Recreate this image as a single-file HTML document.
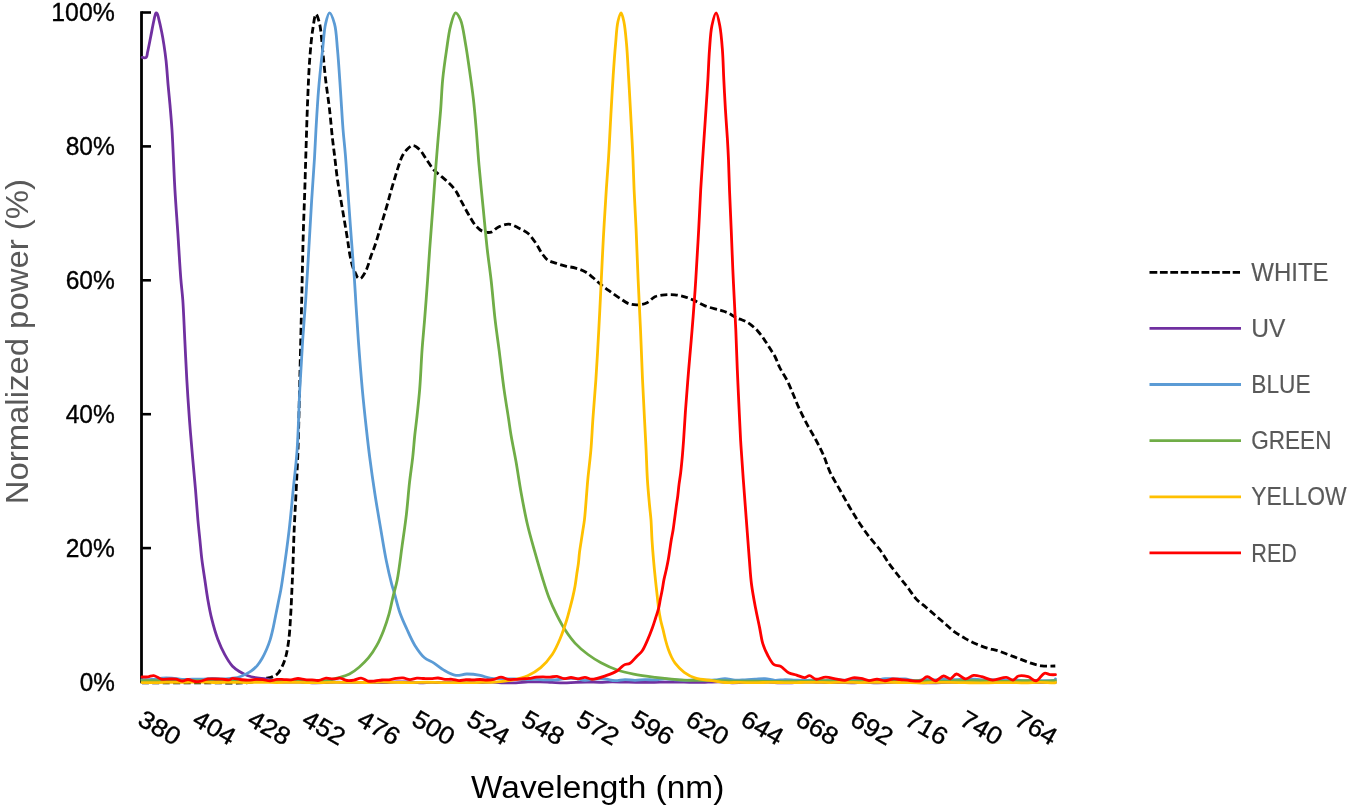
<!DOCTYPE html>
<html><head><meta charset="utf-8"><style>
html,body{margin:0;padding:0;background:#fff;width:1350px;height:807px;overflow:hidden}
svg{display:block;will-change:transform}
.tk{font-family:"Liberation Sans",sans-serif;font-size:25.5px;fill:#000;stroke:#000;stroke-width:0.35px}
.lg{font-family:"Liberation Sans",sans-serif;font-size:25.5px;fill:#595959;stroke:#595959;stroke-width:0.15px}
.ti{font-family:"Liberation Sans",sans-serif;font-size:31px;stroke-width:0px}
</style></head><body>
<svg width="1350" height="807" viewBox="0 0 1350 807">
<rect width="1350" height="807" fill="#fff"/>
<text x="114.8" y="21.0" text-anchor="end" class="tk" textLength="63.5" lengthAdjust="spacingAndGlyphs">100%</text>
<text x="114.8" y="154.9" text-anchor="end" class="tk" textLength="49.1" lengthAdjust="spacingAndGlyphs">80%</text>
<text x="114.8" y="288.8" text-anchor="end" class="tk" textLength="49.1" lengthAdjust="spacingAndGlyphs">60%</text>
<text x="114.8" y="422.7" text-anchor="end" class="tk" textLength="49.1" lengthAdjust="spacingAndGlyphs">40%</text>
<text x="114.8" y="556.6" text-anchor="end" class="tk" textLength="49.1" lengthAdjust="spacingAndGlyphs">20%</text>
<text x="114.8" y="690.5" text-anchor="end" class="tk" textLength="35.1" lengthAdjust="spacingAndGlyphs">0%</text>
<line x1="141.5" y1="12.5" x2="151" y2="12.5" stroke="#000" stroke-width="2.6"/><line x1="141.5" y1="146.4" x2="151" y2="146.4" stroke="#000" stroke-width="2.6"/><line x1="141.5" y1="280.3" x2="151" y2="280.3" stroke="#000" stroke-width="2.6"/><line x1="141.5" y1="414.2" x2="151" y2="414.2" stroke="#000" stroke-width="2.6"/><line x1="141.5" y1="548.1" x2="151" y2="548.1" stroke="#000" stroke-width="2.6"/><line x1="141.5" y1="682.0" x2="151" y2="682.0" stroke="#000" stroke-width="2.6"/>
<line x1="141.5" y1="11.2" x2="141.5" y2="683.3" stroke="#000" stroke-width="2.8"/>
<path d="M142.00 682.80C142.00 682.80 181.38 682.87 200.00 682.80C217.28 682.73 240.51 683.55 250.00 682.40C253.85 681.93 255.35 681.20 258.00 680.50C260.65 679.80 263.57 678.73 265.90 678.20C267.71 677.79 269.11 677.95 270.80 677.40C272.79 676.76 275.22 675.87 277.00 674.30C279.03 672.50 280.59 669.56 282.00 666.80C283.53 663.81 284.66 660.71 285.70 656.90C287.05 651.98 288.00 645.91 288.80 639.60C289.76 632.10 290.18 623.07 290.70 614.80C291.22 606.54 291.54 597.92 291.90 590.00C292.23 582.71 292.48 577.10 292.80 569.00C293.23 557.88 293.63 542.61 294.20 529.40C294.77 516.17 295.57 502.93 296.20 489.70C296.83 476.47 297.46 465.13 298.00 450.00C298.71 429.83 299.20 403.62 299.80 379.40C300.43 353.71 301.23 320.36 301.70 300.00C302.00 287.28 302.14 279.96 302.40 269.00C302.70 256.61 303.00 242.61 303.40 229.40C303.80 216.17 304.37 202.93 304.80 189.70C305.23 176.47 305.55 164.05 306.00 150.00C306.51 134.11 307.03 115.09 307.70 99.20C308.29 85.15 308.77 71.76 309.70 59.50C310.50 48.87 311.41 38.08 312.70 29.80C313.64 23.77 314.68 14.40 316.00 14.30C317.06 14.22 318.62 19.78 319.60 23.80C321.17 30.22 321.63 40.69 322.60 49.60C323.64 59.17 324.45 69.48 325.60 79.40C326.75 89.32 328.35 99.18 329.50 109.10C330.65 119.02 331.55 130.49 332.50 138.90C333.20 145.09 333.77 149.06 334.50 155.00C335.40 162.38 336.25 171.18 337.50 179.80C338.87 189.27 340.83 199.59 342.50 209.50C344.17 219.42 346.16 230.94 347.50 239.30C348.47 245.36 348.93 250.11 349.90 255.00C350.77 259.37 351.73 263.89 352.90 267.30C353.77 269.86 354.90 271.92 355.80 273.80C356.51 275.28 356.91 276.89 357.80 277.70C358.50 278.33 359.52 278.86 360.30 278.70C361.20 278.52 362.00 277.23 362.80 276.20C363.82 274.89 364.83 273.08 365.70 271.30C366.65 269.34 367.38 267.22 368.20 264.90C369.15 262.19 370.03 258.76 371.00 256.00C371.87 253.54 372.84 251.45 373.70 249.10C374.58 246.69 375.31 244.49 376.20 241.70C377.34 238.11 378.67 233.43 379.90 229.30C381.13 225.17 382.37 221.03 383.60 216.90C384.83 212.77 386.09 208.74 387.30 204.50C388.56 200.08 389.74 195.32 391.00 190.90C392.21 186.66 393.45 182.63 394.70 178.50C395.95 174.36 397.18 169.98 398.50 166.10C399.69 162.60 400.72 159.04 402.20 156.20C403.45 153.80 404.75 151.78 406.50 150.00C408.27 148.20 410.62 145.58 412.80 145.50C415.05 145.42 417.67 147.78 419.80 149.80C422.39 152.26 424.38 156.48 426.70 159.80C429.02 163.11 431.11 166.83 433.70 169.70C436.11 172.37 439.05 174.38 441.60 176.60C443.98 178.67 446.26 180.38 448.50 182.60C450.90 184.98 453.42 187.52 455.50 190.50C457.76 193.73 459.35 197.61 461.40 201.40C463.63 205.52 466.00 210.22 468.40 214.30C470.65 218.13 472.75 222.25 475.30 225.20C477.46 227.69 479.63 230.04 482.30 231.20C484.94 232.35 488.54 232.90 491.20 232.20C493.79 231.52 495.40 228.50 498.10 227.20C501.21 225.71 505.48 224.00 509.00 224.20C512.44 224.39 515.82 226.66 519.00 228.20C522.11 229.70 525.21 230.99 527.90 233.30C530.91 235.88 533.54 239.89 535.90 243.30C538.14 246.53 539.69 250.28 541.80 253.20C543.68 255.80 545.42 258.44 547.80 260.10C550.09 261.69 552.90 262.15 555.70 263.10C558.80 264.16 562.27 265.26 565.60 266.10C568.91 266.93 572.32 267.13 575.60 268.10C578.95 269.09 582.49 270.31 585.50 272.00C588.40 273.63 590.80 275.88 593.40 278.00C596.07 280.18 598.62 282.73 601.30 284.90C603.92 287.02 606.47 288.86 609.30 290.90C612.41 293.15 615.87 295.63 619.20 297.80C622.47 299.93 625.67 302.65 629.10 303.80C632.28 304.87 635.89 305.02 639.00 304.80C641.83 304.60 644.46 304.02 647.00 302.80C649.79 301.46 651.95 298.13 654.90 296.80C657.88 295.45 661.47 295.13 664.80 294.80C668.11 294.47 671.49 294.47 674.80 294.80C678.13 295.13 681.57 295.91 684.70 296.80C687.65 297.64 690.10 298.59 693.10 299.90C696.76 301.49 700.80 304.27 705.00 305.90C709.38 307.60 715.47 308.82 718.90 309.80C720.92 310.38 722.08 310.63 723.70 311.20C725.42 311.81 727.25 312.58 728.90 313.40C730.48 314.19 731.91 315.13 733.40 316.00C734.88 316.86 736.35 317.97 737.80 318.60C739.08 319.15 740.30 319.23 741.60 319.70C743.03 320.21 744.62 320.89 746.00 321.60C747.31 322.27 748.44 322.92 749.70 323.80C751.16 324.83 752.80 326.23 754.20 327.50C755.52 328.70 756.70 329.88 757.90 331.20C759.17 332.60 760.46 334.18 761.60 335.70C762.69 337.15 763.60 338.62 764.60 340.10C765.60 341.59 766.56 342.98 767.60 344.60C768.78 346.45 770.06 348.61 771.30 350.60C772.53 352.58 773.78 354.17 775.00 356.50C776.59 359.55 777.80 363.68 779.70 367.50C781.89 371.92 785.26 376.70 787.60 381.40C789.88 385.97 791.62 390.66 793.60 395.30C795.58 399.93 797.30 404.45 799.50 409.20C801.89 414.36 804.78 420.01 807.50 425.10C810.08 429.92 812.83 434.18 815.40 439.00C818.10 444.06 820.90 449.38 823.30 454.80C825.74 460.31 827.26 466.15 829.90 471.80C832.70 477.78 836.48 483.75 839.80 489.70C843.12 495.65 846.41 501.77 849.80 507.50C853.05 512.99 856.32 518.33 859.70 523.40C862.93 528.24 866.22 532.91 869.60 537.30C872.82 541.48 876.31 544.92 879.50 549.20C882.93 553.80 886.00 559.37 889.40 564.10C892.64 568.62 896.17 572.86 899.40 577.00C902.42 580.87 905.35 584.47 908.20 588.20C910.98 591.84 913.28 595.89 916.30 599.10C919.20 602.19 922.72 604.48 925.90 607.20C929.08 609.92 932.22 612.67 935.40 615.40C938.59 618.14 941.81 620.86 945.00 623.60C948.18 626.33 951.12 629.31 954.50 631.80C957.92 634.32 961.72 636.54 965.40 638.60C968.99 640.60 972.63 642.40 976.30 644.00C979.89 645.56 983.53 646.96 987.20 648.10C990.80 649.22 994.50 649.68 998.10 650.80C1001.77 651.94 1005.37 653.53 1009.00 654.90C1012.63 656.27 1016.27 657.63 1019.90 659.00C1023.53 660.37 1027.13 661.96 1030.80 663.10C1034.40 664.22 1037.84 665.30 1041.70 665.80C1045.95 666.35 1055.30 666.00 1055.30 666.00" fill="none" stroke="#000000" stroke-width="2.8" stroke-linejoin="round" stroke-linecap="butt" stroke-dasharray="7 3.4" class="dl"/>
<path d="M142.20 57.40C142.20 57.40 145.30 58.10 146.20 57.40C147.27 56.57 147.08 54.25 147.60 52.00C148.46 48.29 149.62 42.14 150.60 37.20C151.58 32.24 152.63 26.40 153.50 22.30C154.12 19.40 154.65 16.60 155.20 14.90C155.50 13.97 155.69 12.93 156.10 12.80C156.41 12.71 156.87 13.07 157.20 13.50C157.86 14.38 158.15 16.49 158.70 18.60C159.58 22.00 160.82 27.59 161.70 32.00C162.55 36.25 163.21 40.12 163.90 44.60C164.69 49.70 165.44 54.94 166.10 61.00C166.91 68.49 167.50 78.42 168.20 86.20C168.80 92.93 169.41 98.29 170.00 105.00C170.68 112.74 171.35 119.89 172.00 130.00C173.00 145.56 173.83 170.94 174.90 189.30C175.83 205.23 176.92 219.02 177.90 233.90C178.88 248.79 179.84 266.42 180.80 278.60C181.47 287.04 182.21 291.77 182.80 300.00C183.60 311.20 184.13 326.47 184.80 339.70C185.47 352.93 186.03 366.18 186.80 379.40C187.57 392.61 188.42 405.80 189.40 419.00C190.38 432.23 191.62 446.29 192.70 458.70C193.65 469.67 194.63 479.42 195.50 489.70C196.36 499.86 197.09 510.97 197.90 520.00C198.56 527.30 199.23 533.19 199.90 539.80C200.57 546.42 201.08 553.08 201.90 559.70C202.72 566.32 203.82 572.89 204.80 579.50C205.78 586.13 206.63 592.79 207.80 599.40C208.97 606.02 210.16 612.64 211.80 619.20C213.46 625.84 215.40 632.87 217.70 639.00C219.79 644.59 222.18 649.88 224.80 654.60C227.16 658.86 229.68 663.20 232.50 666.20C234.80 668.65 237.36 670.22 239.90 671.80C242.30 673.29 244.59 674.50 247.30 675.50C250.31 676.62 253.99 677.45 257.20 678.00C260.17 678.51 262.67 678.31 265.90 678.80C270.05 679.43 274.86 681.23 280.00 681.80C286.06 682.47 294.18 681.83 300.00 682.03C304.51 682.19 308.00 682.64 312.00 682.75C316.00 682.85 320.00 682.76 324.00 682.66C328.00 682.57 332.00 682.20 336.00 682.16C340.00 682.11 344.00 682.36 348.00 682.40C352.00 682.43 356.00 682.32 360.00 682.35C364.00 682.38 368.00 682.50 372.00 682.55C376.00 682.61 380.00 682.78 384.00 682.69C388.00 682.60 392.00 682.12 396.00 681.99C400.00 681.87 404.00 681.80 408.00 681.93C412.00 682.05 416.00 682.67 420.00 682.74C424.00 682.80 428.00 682.35 432.00 682.33C436.00 682.32 440.00 682.73 444.00 682.66C448.00 682.59 452.00 681.95 456.00 681.90C460.00 681.85 464.00 682.23 468.00 682.35C472.00 682.47 476.00 682.66 480.00 682.62C484.00 682.59 488.00 682.09 492.00 682.13C496.00 682.17 500.00 682.73 504.00 682.85C508.00 682.96 512.00 682.95 516.00 682.80C520.00 682.65 524.00 682.08 528.00 681.93C532.00 681.78 536.00 681.84 540.00 681.93C544.00 682.01 548.00 682.29 552.00 682.44C556.00 682.59 560.00 682.87 564.00 682.84C568.00 682.81 572.00 682.40 576.00 682.28C580.00 682.16 584.00 682.11 588.00 682.12C592.00 682.12 596.00 682.35 600.00 682.32C604.00 682.29 608.00 681.96 612.00 681.93C616.00 681.90 620.00 682.05 624.00 682.12C628.00 682.19 632.00 682.29 636.00 682.34C640.00 682.38 644.00 682.43 648.00 682.40C652.00 682.36 656.00 682.18 660.00 682.13C664.00 682.09 668.00 682.13 672.00 682.13C676.00 682.13 680.00 682.08 684.00 682.12C688.00 682.16 692.00 682.35 696.00 682.36C700.00 682.37 704.00 682.26 708.00 682.19C712.00 682.12 716.00 681.83 720.00 681.92C724.00 682.01 728.00 682.65 732.00 682.74C736.00 682.83 740.00 682.49 744.00 682.46C748.00 682.42 752.00 682.60 756.00 682.54C760.00 682.48 764.00 682.03 768.00 682.09C772.00 682.14 776.00 682.78 780.00 682.89C784.00 683.00 788.00 682.91 792.00 682.76C796.00 682.61 800.00 682.11 804.00 682.02C808.00 681.93 812.00 682.13 816.00 682.23C820.00 682.33 824.00 682.56 828.00 682.62C832.00 682.68 836.00 682.58 840.00 682.61C844.00 682.65 848.00 682.88 852.00 682.84C856.00 682.79 860.00 682.34 864.00 682.32C868.00 682.30 872.00 682.69 876.00 682.73C880.00 682.77 884.00 682.66 888.00 682.57C892.00 682.48 896.00 682.22 900.00 682.20C904.00 682.19 908.00 682.39 912.00 682.49C916.00 682.58 920.00 682.74 924.00 682.78C928.00 682.83 932.00 682.81 936.00 682.75C940.00 682.68 944.00 682.45 948.00 682.41C952.00 682.36 956.00 682.57 960.00 682.49C964.00 682.41 968.00 681.99 972.00 681.93C976.00 681.88 980.00 682.02 984.00 682.14C988.00 682.27 992.00 682.67 996.00 682.70C1000.00 682.73 1004.00 682.42 1008.00 682.31C1012.00 682.21 1016.00 682.05 1020.00 682.07C1024.00 682.10 1028.00 682.36 1032.00 682.45C1036.00 682.54 1040.04 682.58 1044.00 682.60C1047.87 682.62 1055.50 682.57 1055.50 682.57" fill="none" stroke="#7030A0" stroke-width="2.8" stroke-linejoin="round" stroke-linecap="round" />
<path d="M142.00 679.53C142.00 679.53 148.68 679.75 152.00 679.52C155.34 679.28 158.66 678.32 162.00 678.09C165.32 677.86 168.67 677.93 172.00 678.14C175.34 678.34 178.66 679.16 182.00 679.34C185.33 679.51 188.67 679.22 192.00 679.18C195.33 679.13 198.67 679.19 202.00 679.07C205.33 678.96 208.67 678.51 212.00 678.49C215.33 678.48 219.42 678.91 222.00 678.97C223.63 679.01 224.41 679.06 226.00 678.97C228.38 678.84 232.37 678.46 234.90 678.00C236.82 677.65 238.22 677.28 239.90 676.70C241.71 676.07 243.58 675.20 245.40 674.30C247.28 673.37 249.16 672.51 251.00 671.20C253.10 669.70 255.36 667.72 257.20 665.60C259.11 663.41 260.68 660.82 262.20 658.20C263.79 655.47 265.19 652.53 266.50 649.50C267.87 646.34 269.11 643.12 270.20 639.60C271.40 635.73 272.36 631.34 273.30 627.20C274.23 623.08 274.97 618.93 275.80 614.80C276.63 610.67 277.47 606.53 278.30 602.40C279.13 598.27 280.09 593.92 280.80 590.00C281.43 586.49 281.72 584.62 282.40 580.00C283.93 569.62 287.34 545.26 289.20 529.40C290.85 515.38 291.88 502.93 293.20 489.70C294.52 476.47 296.06 464.65 297.10 450.00C298.39 431.92 298.81 408.51 299.80 389.30C300.69 371.93 301.65 355.31 302.70 339.70C303.64 325.73 304.74 314.05 305.70 300.00C306.78 284.11 307.79 266.03 308.80 249.20C309.79 232.57 310.71 215.40 311.70 199.60C312.61 185.12 313.75 170.62 314.50 158.00C315.13 147.47 315.39 139.42 316.00 129.00C316.71 116.80 317.50 102.52 318.60 89.30C319.70 76.06 321.32 61.41 322.60 49.60C323.63 40.07 324.03 30.51 325.60 23.80C326.65 19.32 328.03 12.96 329.50 12.90C330.99 12.84 333.23 19.27 334.50 23.80C336.37 30.46 336.60 40.07 337.50 49.60C338.62 61.40 339.48 76.06 340.40 89.30C341.32 102.53 342.07 117.17 343.00 129.00C343.76 138.59 344.60 145.17 345.40 155.00C346.44 167.87 347.47 185.17 348.50 199.60C349.47 213.22 350.42 226.07 351.40 239.30C352.38 252.53 353.59 267.16 354.40 279.00C355.06 288.58 355.41 295.71 356.00 305.00C356.69 315.73 357.37 327.11 358.30 339.70C359.41 354.76 360.86 373.59 362.30 389.30C363.61 403.54 365.14 417.70 366.50 430.00C367.63 440.21 368.52 448.14 369.80 458.00C371.24 469.07 372.96 481.25 374.80 493.20C376.71 505.64 379.07 519.34 381.10 531.20C382.89 541.66 384.43 551.49 386.30 560.70C387.96 568.89 390.01 577.75 391.60 583.80C392.64 587.78 393.40 589.79 394.50 593.60C396.04 598.91 397.77 606.65 399.90 612.70C401.91 618.41 404.32 623.59 406.80 629.00C409.32 634.50 411.80 640.47 414.90 645.40C417.76 649.96 420.98 654.66 424.50 657.70C427.44 660.24 430.88 661.11 434.00 663.10C437.22 665.16 440.02 667.90 443.50 669.90C447.24 672.04 451.74 674.80 455.80 675.40C459.47 675.94 462.86 674.05 466.70 674.00C470.98 673.95 476.19 674.62 480.30 675.40C483.81 676.07 486.39 677.52 489.90 678.10C494.01 678.77 499.16 678.65 503.50 678.80C507.49 678.94 511.30 678.86 515.00 679.02C518.45 679.17 521.67 679.65 525.00 679.70C528.33 679.75 531.67 679.29 535.00 679.31C538.33 679.34 541.67 679.73 545.00 679.83C548.33 679.92 551.67 680.07 555.00 679.88C558.34 679.68 561.66 678.87 565.00 678.64C568.33 678.42 571.68 678.25 575.00 678.53C578.35 678.81 581.66 680.25 585.00 680.34C588.33 680.43 591.66 679.29 595.00 679.07C598.33 678.85 601.68 678.75 605.00 679.02C608.34 679.28 611.66 680.61 615.00 680.69C618.33 680.78 621.66 679.59 625.00 679.53C628.33 679.48 631.67 680.34 635.00 680.34C638.33 680.34 641.66 679.62 645.00 679.55C648.33 679.48 651.67 680.02 655.00 679.91C658.34 679.79 661.67 678.83 665.00 678.83C668.33 678.83 671.66 679.63 675.00 679.90C678.33 680.16 681.67 680.45 685.00 680.41C688.33 680.37 691.67 679.70 695.00 679.65C698.33 679.60 701.67 680.08 705.00 680.13C708.33 680.19 711.67 680.22 715.00 679.98C718.34 679.73 721.67 678.61 725.00 678.64C728.34 678.67 731.66 679.98 735.00 680.17C738.32 680.36 741.67 679.97 745.00 679.80C748.33 679.63 751.67 679.37 755.00 679.16C758.33 678.96 761.68 678.37 765.00 678.57C768.35 678.77 771.66 680.24 775.00 680.40C778.32 680.56 781.66 679.59 785.00 679.54C788.33 679.49 791.67 679.93 795.00 680.08C798.33 680.23 801.67 680.44 805.00 680.43C808.33 680.43 811.67 680.06 815.00 680.07C818.33 680.09 821.67 680.64 825.00 680.53C828.34 680.41 831.66 679.41 835.00 679.37C838.33 679.33 841.67 680.24 845.00 680.26C848.33 680.28 851.67 679.43 855.00 679.48C858.34 679.53 861.66 680.40 865.00 680.56C868.33 680.72 871.68 680.74 875.00 680.43C878.35 680.13 881.65 678.99 885.00 678.71C888.32 678.45 891.67 678.76 895.00 678.80C898.33 678.84 901.68 678.68 905.00 678.98C908.34 679.28 911.66 680.55 915.00 680.62C918.33 680.70 921.66 679.58 925.00 679.46C928.33 679.34 931.67 679.93 935.00 679.88C938.33 679.83 941.67 679.21 945.00 679.16C948.33 679.12 951.67 679.58 955.00 679.62C958.33 679.65 961.67 679.41 965.00 679.35C968.33 679.29 971.67 679.20 975.00 679.27C978.33 679.35 981.67 679.70 985.00 679.79C988.33 679.87 991.67 679.67 995.00 679.79C998.34 679.90 1001.67 680.45 1005.00 680.49C1008.33 680.52 1011.67 679.99 1015.00 680.00C1018.33 680.01 1021.67 680.48 1025.00 680.54C1028.33 680.61 1031.67 680.36 1035.00 680.38C1038.33 680.41 1041.67 680.75 1045.00 680.68C1048.34 680.61 1053.78 680.83 1055.00 679.98C1055.43 679.68 1055.50 678.86 1055.50 678.86" fill="none" stroke="#5B9BD5" stroke-width="2.8" stroke-linejoin="round" stroke-linecap="round" />
<path d="M142.00 680.74C142.00 680.74 151.33 680.58 156.00 680.60C160.67 680.63 165.33 680.89 170.00 680.90C174.67 680.90 179.33 680.71 184.00 680.65C188.67 680.60 193.33 680.53 198.00 680.57C202.67 680.61 207.33 680.76 212.00 680.90C216.67 681.04 221.33 681.35 226.00 681.42C230.67 681.48 235.33 681.33 240.00 681.30C244.67 681.27 249.33 681.36 254.00 681.27C258.67 681.17 263.33 680.76 268.00 680.72C272.67 680.68 277.33 681.03 282.00 681.04C286.67 681.05 291.33 680.84 296.00 680.78C300.67 680.72 305.33 680.70 310.00 680.67C314.67 680.64 322.03 680.50 324.00 680.61C324.53 680.63 324.47 680.74 325.00 680.71C327.06 680.60 335.60 678.67 340.00 677.40C343.56 676.37 346.43 675.60 349.50 674.00C352.81 672.27 356.01 669.80 359.10 667.20C362.40 664.42 365.71 661.23 368.60 657.70C371.63 654.00 374.35 649.81 376.80 645.40C379.38 640.75 381.58 635.56 383.60 630.40C385.66 625.13 387.43 619.69 389.00 614.10C390.62 608.33 391.70 602.10 393.10 596.30C394.44 590.74 395.93 586.46 397.20 580.00C399.02 570.75 400.54 557.05 402.10 545.90C403.60 535.17 405.17 524.84 406.40 514.30C407.63 503.78 408.38 492.64 409.50 482.70C410.50 473.79 411.80 465.58 412.70 457.40C413.55 449.71 414.08 441.85 414.80 435.00C415.42 429.19 416.02 425.09 416.70 418.90C417.62 410.49 418.84 399.75 419.70 389.10C420.69 376.82 421.21 361.67 422.10 349.40C422.87 338.78 423.75 330.32 424.60 319.70C425.58 307.43 426.71 292.42 427.60 280.00C428.39 269.03 428.91 259.96 429.70 249.00C430.59 236.61 431.72 222.61 432.70 209.40C433.68 196.18 434.64 182.09 435.60 169.70C436.44 158.78 437.24 149.08 438.10 138.90C438.94 128.88 439.93 119.03 440.70 109.10C441.47 99.20 441.72 89.29 442.70 79.40C443.68 69.46 445.20 58.96 446.60 49.60C447.85 41.21 448.77 32.45 450.60 25.80C451.98 20.76 453.70 13.14 455.60 12.90C457.09 12.71 459.11 16.61 460.50 19.80C462.86 25.21 464.03 35.57 465.50 43.70C467.01 52.09 468.13 60.51 469.40 69.40C470.77 78.96 472.27 89.26 473.40 99.20C474.53 109.12 475.31 118.59 476.20 129.00C477.18 140.43 477.90 152.38 479.00 165.00C480.22 179.03 481.90 195.02 483.30 209.40C484.63 222.98 485.81 236.62 487.20 249.00C488.43 259.97 489.86 269.02 491.10 280.00C492.51 292.41 493.68 307.44 495.10 319.70C496.33 330.33 497.63 338.78 499.00 349.40C500.58 361.67 502.28 376.83 504.00 389.10C505.49 399.76 507.32 410.48 508.60 418.90C509.54 425.08 509.98 428.97 511.00 435.00C512.31 442.77 514.37 452.34 516.00 461.60C517.77 471.67 519.29 482.68 521.20 493.20C523.12 503.75 525.13 514.68 527.50 524.80C529.73 534.30 532.39 543.26 534.90 552.20C537.32 560.81 539.84 569.58 542.30 577.50C544.50 584.58 546.40 591.08 548.90 597.50C551.32 603.70 554.17 609.78 557.00 615.40C559.62 620.60 562.17 625.45 565.20 630.10C568.18 634.67 571.27 639.08 575.00 643.10C578.84 647.24 583.53 651.16 588.00 654.50C592.21 657.65 596.33 660.20 601.00 662.70C606.04 665.40 611.78 668.09 617.30 670.00C622.65 671.86 627.78 672.93 633.60 674.10C640.17 675.42 647.47 676.37 654.80 677.30C662.66 678.29 670.09 679.24 679.30 679.80C691.14 680.52 709.75 680.32 720.00 680.60C726.22 680.77 730.09 681.02 735.00 681.12C739.75 681.23 744.33 681.21 749.00 681.24C753.67 681.27 758.33 681.26 763.00 681.30C767.67 681.33 772.33 681.45 777.00 681.44C781.67 681.43 786.33 681.24 791.00 681.24C795.67 681.24 800.34 681.54 805.00 681.42C809.67 681.30 814.33 680.60 819.00 680.53C823.66 680.45 828.33 680.81 833.00 680.97C837.67 681.12 842.33 681.41 847.00 681.44C851.67 681.47 856.33 681.16 861.00 681.15C865.67 681.14 870.33 681.49 875.00 681.40C879.67 681.31 884.33 680.69 889.00 680.61C893.67 680.54 898.33 680.95 903.00 680.97C907.67 680.99 912.33 680.73 917.00 680.75C921.67 680.76 926.33 680.99 931.00 681.04C935.67 681.10 940.33 681.16 945.00 681.07C949.67 680.99 954.33 680.57 959.00 680.51C963.67 680.45 968.33 680.67 973.00 680.72C977.67 680.76 982.33 680.66 987.00 680.78C991.67 680.90 996.33 681.34 1001.00 681.42C1005.67 681.50 1010.33 681.39 1015.00 681.27C1019.67 681.14 1024.33 680.65 1029.00 680.66C1033.67 680.66 1038.47 681.31 1043.00 681.30C1047.29 681.28 1055.50 680.64 1055.50 680.64" fill="none" stroke="#70AD47" stroke-width="2.8" stroke-linejoin="round" stroke-linecap="round" />
<path d="M142.00 682.58C142.00 682.58 152.00 682.62 157.00 682.59C162.00 682.56 167.00 682.45 172.00 682.39C177.00 682.33 182.00 682.31 187.00 682.26C192.00 682.21 197.00 682.06 202.00 682.10C207.00 682.14 212.00 682.45 217.00 682.50C222.00 682.54 227.00 682.37 232.00 682.38C237.00 682.39 242.00 682.57 247.00 682.56C252.00 682.55 257.00 682.32 262.00 682.32C267.00 682.32 272.00 682.57 277.00 682.56C282.00 682.55 287.00 682.26 292.00 682.26C297.00 682.27 302.00 682.54 307.00 682.58C312.00 682.63 317.00 682.58 322.00 682.54C327.00 682.50 332.00 682.37 337.00 682.35C342.00 682.33 347.00 682.40 352.00 682.42C357.00 682.45 362.00 682.54 367.00 682.51C372.00 682.47 377.00 682.23 382.00 682.22C387.00 682.20 392.00 682.37 397.00 682.43C402.00 682.49 407.00 682.61 412.00 682.58C417.00 682.55 422.00 682.26 427.00 682.26C432.00 682.26 437.00 682.54 442.00 682.58C447.00 682.62 452.00 682.51 457.00 682.51C462.00 682.52 467.00 682.64 472.00 682.61C477.00 682.57 482.78 682.38 487.00 682.30C490.08 682.24 491.81 682.39 495.00 682.16C499.81 681.80 507.34 680.95 513.00 679.80C518.19 678.74 523.09 677.73 527.70 675.70C532.32 673.67 536.72 670.97 540.70 667.60C544.94 664.00 548.96 659.34 552.20 654.50C555.52 649.56 557.91 643.86 560.30 638.20C562.76 632.37 564.99 625.46 566.70 620.00C568.07 615.61 568.96 611.93 570.00 608.00C570.99 604.23 571.95 600.62 572.80 596.90C573.65 593.18 574.45 589.43 575.10 585.70C575.75 582.00 576.15 578.31 576.70 574.60C577.25 570.87 577.93 567.13 578.40 563.40C578.86 559.70 579.04 556.00 579.50 552.30C579.97 548.57 580.63 544.82 581.20 541.10C581.77 537.39 582.35 533.67 582.90 530.00C583.44 526.40 583.95 524.01 584.50 519.30C585.55 510.27 586.65 491.86 587.80 479.60C588.80 469.00 590.06 459.99 590.90 450.00C591.76 439.79 592.13 429.97 592.90 419.00C593.77 406.58 594.96 393.27 595.90 379.30C596.95 363.69 597.95 345.32 598.80 329.70C599.56 315.73 600.10 304.04 600.80 290.00C601.59 274.13 602.38 256.10 603.30 239.30C604.21 222.67 605.35 204.12 606.30 189.70C607.03 178.54 607.82 169.06 608.40 160.00C608.89 152.37 609.18 146.54 609.60 138.90C610.10 129.82 610.62 119.34 611.20 109.10C611.82 98.21 612.45 86.46 613.20 75.40C613.92 64.67 614.73 53.29 615.60 43.70C616.32 35.72 616.61 27.42 617.90 21.80C618.74 18.11 620.10 12.88 621.10 12.90C622.10 12.92 623.11 18.13 623.90 21.80C625.11 27.44 625.77 35.72 626.50 43.70C627.37 53.28 627.86 64.67 628.50 75.40C629.16 86.46 629.80 98.21 630.40 109.10C630.96 119.34 631.54 129.82 632.00 138.90C632.39 146.54 632.68 152.37 633.00 160.00C633.38 169.06 633.64 179.08 634.10 189.70C634.64 201.98 635.47 215.43 636.10 229.40C636.81 245.01 637.37 262.38 638.10 279.00C638.84 295.81 639.76 312.89 640.50 329.70C641.23 346.32 641.79 363.69 642.50 379.30C643.13 393.27 643.87 406.58 644.50 419.00C645.06 429.97 645.61 439.79 646.10 450.00C646.58 459.98 646.80 470.12 647.40 479.60C647.96 488.40 648.83 497.64 649.50 505.00C650.02 510.66 650.60 514.65 651.00 520.00C651.46 526.14 651.58 533.20 652.00 539.80C652.42 546.40 652.93 553.00 653.50 559.60C654.07 566.20 654.79 573.54 655.40 579.40C655.88 584.07 656.30 587.53 656.80 592.00C657.36 597.08 657.90 603.33 658.60 608.30C659.19 612.53 659.84 616.40 660.60 620.00C661.26 623.13 662.04 625.61 662.80 628.70C663.67 632.22 664.54 636.43 665.50 640.00C666.38 643.26 667.25 646.37 668.30 649.30C669.27 652.01 670.32 654.61 671.50 657.00C672.60 659.22 673.45 661.04 675.10 663.20C677.32 666.10 680.77 669.90 684.20 672.40C687.61 674.89 691.34 676.84 695.60 678.20C700.44 679.74 706.76 679.85 711.90 680.60C716.50 681.27 720.47 682.18 725.00 682.49C729.82 682.82 735.00 682.36 740.00 682.39C745.00 682.42 750.00 682.70 755.00 682.69C760.00 682.68 765.00 682.35 770.00 682.34C775.00 682.33 780.00 682.59 785.00 682.62C790.00 682.65 795.00 682.57 800.00 682.52C805.00 682.47 810.00 682.32 815.00 682.33C820.00 682.35 825.00 682.61 830.00 682.60C835.00 682.60 840.00 682.33 845.00 682.32C850.00 682.32 855.00 682.56 860.00 682.56C865.00 682.56 870.00 682.38 875.00 682.34C880.00 682.31 885.00 682.32 890.00 682.35C895.00 682.39 900.00 682.48 905.00 682.55C910.00 682.63 915.00 682.83 920.00 682.80C925.00 682.77 930.00 682.43 935.00 682.37C940.00 682.31 945.00 682.38 950.00 682.43C955.00 682.48 960.00 682.60 965.00 682.68C970.00 682.75 975.00 682.87 980.00 682.87C985.00 682.86 990.00 682.70 995.00 682.65C1000.00 682.59 1005.00 682.50 1010.00 682.54C1015.00 682.58 1020.00 682.92 1025.00 682.89C1030.00 682.85 1035.00 682.34 1040.00 682.33C1045.00 682.32 1053.47 683.26 1055.00 682.82C1055.31 682.73 1055.50 682.47 1055.50 682.47" fill="none" stroke="#FFC000" stroke-width="2.8" stroke-linejoin="round" stroke-linecap="round" />
<path d="M142.00 677.00C142.00 677.00 146.04 677.04 148.00 676.80C149.91 676.57 151.87 675.43 153.60 675.60C155.18 675.76 156.67 676.87 158.00 677.50C159.13 678.04 159.75 678.78 161.10 679.10C163.26 679.61 167.33 678.97 170.00 679.00C172.20 679.02 173.99 678.89 176.00 679.20C178.12 679.53 180.34 680.99 182.40 681.00C184.33 681.01 186.03 679.48 188.00 679.50C190.21 679.52 192.84 681.24 195.00 681.50C196.79 681.71 198.16 681.60 200.00 681.30C202.38 680.92 205.40 679.37 208.00 679.00C210.39 678.66 212.67 678.97 215.00 679.00C217.33 679.03 219.59 679.09 222.00 679.20C224.58 679.32 228.26 680.12 230.00 679.70C230.94 679.47 231.06 678.70 232.00 678.50C233.74 678.13 237.33 679.22 240.00 679.50C242.66 679.78 245.33 680.23 248.00 680.20C250.67 680.17 253.42 679.42 256.00 679.35C258.41 679.28 260.67 679.44 263.00 679.69C265.34 679.94 267.67 680.91 270.00 680.86C272.34 680.81 274.65 679.61 277.00 679.39C279.32 679.17 281.67 679.46 284.00 679.53C286.33 679.59 288.68 679.95 291.00 679.78C293.34 679.61 295.66 678.53 298.00 678.49C300.33 678.45 302.66 679.30 305.00 679.54C307.33 679.77 309.67 679.77 312.00 679.92C314.33 680.07 316.69 680.71 319.00 680.44C321.36 680.16 323.64 678.45 326.00 678.20C328.31 677.95 330.67 678.87 333.00 678.87C335.33 678.87 337.69 677.93 340.00 678.19C342.36 678.45 344.64 680.18 347.00 680.49C349.30 680.80 351.69 680.52 354.00 680.12C356.36 679.71 358.69 677.90 361.00 678.03C363.36 678.17 365.62 680.56 368.00 681.04C370.29 681.50 372.67 681.16 375.00 680.99C377.34 680.81 379.66 680.18 382.00 679.99C384.33 679.81 386.68 680.13 389.00 679.87C391.35 679.61 393.66 678.72 396.00 678.40C398.32 678.09 400.68 677.76 403.00 677.95C405.35 678.14 407.66 679.57 410.00 679.59C412.33 679.61 414.65 678.27 417.00 678.09C419.32 677.91 421.67 678.41 424.00 678.51C426.33 678.61 428.67 678.76 431.00 678.67C433.34 678.59 435.68 677.88 438.00 678.00C440.34 678.11 442.66 679.17 445.00 679.38C447.32 679.60 449.68 679.11 452.00 679.31C454.34 679.51 456.66 680.55 459.00 680.60C461.33 680.64 463.66 679.67 466.00 679.56C468.33 679.45 470.67 679.96 473.00 679.95C475.33 679.94 477.67 679.49 480.00 679.50C482.33 679.51 484.67 680.04 487.00 680.02C489.33 680.00 491.69 679.84 494.00 679.36C496.36 678.88 498.67 677.09 501.00 677.09C503.33 677.09 505.64 679.01 508.00 679.39C510.30 679.76 512.67 679.47 515.00 679.39C517.33 679.30 519.67 679.04 522.00 678.89C524.33 678.74 526.67 678.74 529.00 678.46C531.34 678.19 533.66 677.46 536.00 677.21C538.32 676.96 540.67 676.95 543.00 676.93C545.33 676.92 547.67 677.21 550.00 677.12C552.34 677.04 554.69 676.18 557.00 676.42C559.36 676.67 561.65 678.48 564.00 678.65C566.31 678.82 568.67 677.44 571.00 677.48C573.34 677.52 575.67 678.92 578.00 678.91C580.33 678.90 582.67 677.38 585.00 677.44C587.34 677.49 589.27 679.26 592.00 679.27C595.85 679.27 601.55 677.18 605.90 675.70C609.95 674.32 614.14 672.78 617.30 670.80C619.95 669.14 621.61 666.37 623.90 665.10C625.86 664.01 628.05 664.39 630.00 663.20C632.42 661.72 634.76 658.36 636.90 656.20C638.75 654.33 640.52 653.19 642.10 651.00C644.08 648.25 645.64 644.30 647.30 640.60C649.13 636.52 651.04 631.54 652.50 627.50C653.73 624.10 654.59 621.19 655.60 618.00C656.62 614.79 657.80 611.48 658.60 608.30C659.35 605.32 659.71 602.49 660.30 599.50C660.91 596.39 661.60 593.26 662.20 590.00C662.83 586.57 663.30 582.86 664.00 579.40C664.68 576.03 665.58 572.81 666.30 569.50C667.02 566.21 667.72 562.91 668.30 559.60C668.88 556.31 669.30 553.00 669.80 549.70C670.30 546.40 670.75 543.09 671.30 539.80C671.85 536.52 672.56 533.37 673.10 530.00C673.67 526.45 674.10 522.75 674.60 519.00C675.13 515.06 675.66 510.85 676.20 506.90C676.72 503.09 677.33 499.43 677.80 495.70C678.26 492.00 678.54 488.30 679.00 484.60C679.47 480.87 680.10 477.51 680.60 473.40C681.21 468.39 681.80 462.27 682.30 456.70C682.80 451.14 683.14 446.42 683.60 440.00C684.22 431.25 684.82 419.96 685.60 409.00C686.49 396.60 687.62 382.61 688.70 369.40C689.78 356.17 691.03 342.94 692.10 329.70C693.17 316.47 694.33 301.15 695.10 290.00C695.66 281.90 695.91 277.10 696.40 269.00C697.07 257.88 697.98 242.61 698.70 229.40C699.42 216.18 700.00 201.97 700.70 189.70C701.31 179.08 702.01 169.06 702.60 160.00C703.10 152.37 703.49 146.54 704.00 138.90C704.61 129.82 705.35 119.03 706.00 109.10C706.65 99.19 707.32 89.31 707.90 79.40C708.48 69.48 708.78 58.97 709.50 49.60C710.15 41.21 710.50 32.46 711.90 25.80C712.96 20.78 714.78 12.88 716.10 12.90C717.41 12.92 718.82 20.80 719.80 25.80C721.11 32.48 721.75 41.21 722.40 49.60C723.13 58.96 723.30 69.48 723.80 79.40C724.30 89.31 724.80 99.19 725.40 109.10C726.00 119.03 726.86 129.82 727.40 138.90C727.86 146.54 728.17 152.37 728.50 160.00C728.89 169.05 729.09 179.08 729.50 189.70C729.97 201.98 730.65 216.17 731.20 229.40C731.75 242.61 732.31 257.88 732.80 269.00C733.16 277.10 733.46 283.09 733.80 290.00C734.13 296.75 734.47 303.36 734.80 310.00C735.13 316.59 735.46 321.99 735.80 329.70C736.28 340.64 736.75 356.18 737.30 369.40C737.85 382.61 738.52 396.61 739.10 409.00C739.61 419.97 740.11 431.52 740.60 440.00C740.94 445.90 741.22 449.39 741.60 455.00C742.09 462.19 742.64 470.42 743.30 479.60C744.14 491.26 745.30 506.08 746.30 519.30C747.30 532.51 748.35 547.17 749.30 558.90C750.06 568.28 750.43 575.89 751.50 584.20C752.55 592.35 754.17 600.72 755.60 608.30C756.88 615.10 758.35 621.46 759.60 627.60C760.74 633.21 761.31 638.88 762.80 643.70C764.09 647.87 765.69 651.46 767.60 655.00C769.47 658.45 771.55 662.91 774.10 664.70C776.02 666.05 778.36 665.25 780.50 666.30C783.18 667.62 785.76 671.22 788.60 672.70C791.15 674.03 793.93 674.29 796.60 675.10C799.29 675.92 802.37 677.71 804.70 677.60C806.53 677.51 807.81 675.50 809.50 675.60C811.51 675.72 813.47 678.82 815.90 679.20C818.73 679.64 822.24 677.25 825.60 677.20C829.22 677.15 833.44 678.65 836.90 679.20C839.82 679.66 842.33 680.57 845.00 680.34C847.70 680.12 850.30 678.11 853.00 677.80C855.64 677.50 858.35 677.98 861.00 678.43C863.69 678.88 866.32 680.41 869.00 680.53C871.65 680.65 874.34 679.18 877.00 679.21C879.67 679.24 882.34 680.78 885.00 680.74C887.67 680.71 890.41 679.18 893.00 678.99C895.40 678.82 897.46 679.28 900.00 679.50C903.04 679.76 906.63 680.28 910.00 680.50C913.43 680.72 917.40 681.59 920.40 680.80C923.02 680.11 924.80 676.79 927.20 676.70C929.78 676.60 932.69 680.89 935.40 680.80C938.16 680.71 940.95 676.18 943.60 676.00C945.93 675.84 948.28 679.10 950.40 678.80C952.58 678.50 954.20 674.20 956.50 674.00C959.12 673.77 962.46 678.65 965.40 678.80C968.16 678.94 970.83 675.73 973.60 675.40C976.26 675.09 978.83 676.02 981.70 676.70C985.09 677.50 988.73 679.89 992.60 680.10C996.88 680.33 1002.57 677.06 1006.30 677.40C1009.00 677.65 1011.04 680.38 1013.10 680.10C1015.09 679.83 1016.30 676.65 1018.50 676.00C1021.13 675.22 1025.11 675.87 1028.10 676.70C1031.00 677.50 1033.61 681.15 1036.20 680.80C1039.07 680.41 1041.75 674.00 1044.40 673.30C1046.31 672.80 1048.13 674.37 1050.00 674.60C1051.83 674.83 1055.50 674.70 1055.50 674.70" fill="none" stroke="#FF0000" stroke-width="2.8" stroke-linejoin="round" stroke-linecap="round" />
<text transform="translate(145.4 708.3) rotate(30)" class="tk" x="0" y="18.2" style="font-size:24.8px" textLength="44.3" lengthAdjust="spacingAndGlyphs">380</text>
<text transform="translate(200.2 708.3) rotate(30)" class="tk" x="0" y="18.2" style="font-size:24.8px" textLength="44.3" lengthAdjust="spacingAndGlyphs">404</text>
<text transform="translate(255.0 708.3) rotate(30)" class="tk" x="0" y="18.2" style="font-size:24.8px" textLength="44.3" lengthAdjust="spacingAndGlyphs">428</text>
<text transform="translate(309.7 708.3) rotate(30)" class="tk" x="0" y="18.2" style="font-size:24.8px" textLength="44.3" lengthAdjust="spacingAndGlyphs">452</text>
<text transform="translate(364.5 708.3) rotate(30)" class="tk" x="0" y="18.2" style="font-size:24.8px" textLength="44.3" lengthAdjust="spacingAndGlyphs">476</text>
<text transform="translate(419.3 708.3) rotate(30)" class="tk" x="0" y="18.2" style="font-size:24.8px" textLength="44.3" lengthAdjust="spacingAndGlyphs">500</text>
<text transform="translate(474.1 708.3) rotate(30)" class="tk" x="0" y="18.2" style="font-size:24.8px" textLength="44.3" lengthAdjust="spacingAndGlyphs">524</text>
<text transform="translate(528.9 708.3) rotate(30)" class="tk" x="0" y="18.2" style="font-size:24.8px" textLength="44.3" lengthAdjust="spacingAndGlyphs">548</text>
<text transform="translate(583.6 708.3) rotate(30)" class="tk" x="0" y="18.2" style="font-size:24.8px" textLength="44.3" lengthAdjust="spacingAndGlyphs">572</text>
<text transform="translate(638.4 708.3) rotate(30)" class="tk" x="0" y="18.2" style="font-size:24.8px" textLength="44.3" lengthAdjust="spacingAndGlyphs">596</text>
<text transform="translate(693.2 708.3) rotate(30)" class="tk" x="0" y="18.2" style="font-size:24.8px" textLength="44.3" lengthAdjust="spacingAndGlyphs">620</text>
<text transform="translate(748.0 708.3) rotate(30)" class="tk" x="0" y="18.2" style="font-size:24.8px" textLength="44.3" lengthAdjust="spacingAndGlyphs">644</text>
<text transform="translate(802.8 708.3) rotate(30)" class="tk" x="0" y="18.2" style="font-size:24.8px" textLength="44.3" lengthAdjust="spacingAndGlyphs">668</text>
<text transform="translate(857.5 708.3) rotate(30)" class="tk" x="0" y="18.2" style="font-size:24.8px" textLength="44.3" lengthAdjust="spacingAndGlyphs">692</text>
<text transform="translate(912.3 708.3) rotate(30)" class="tk" x="0" y="18.2" style="font-size:24.8px" textLength="44.3" lengthAdjust="spacingAndGlyphs">716</text>
<text transform="translate(967.1 708.3) rotate(30)" class="tk" x="0" y="18.2" style="font-size:24.8px" textLength="44.3" lengthAdjust="spacingAndGlyphs">740</text>
<text transform="translate(1021.9 708.3) rotate(30)" class="tk" x="0" y="18.2" style="font-size:24.8px" textLength="44.3" lengthAdjust="spacingAndGlyphs">764</text>
<line x1="1149.5" y1="272.3" x2="1240" y2="272.3" stroke="#000000" stroke-width="2.8" stroke-dasharray="7.8 2.6"/>
<text x="1251.3" y="280.9" class="lg" textLength="77.3" lengthAdjust="spacingAndGlyphs">WHITE</text>
<line x1="1149.5" y1="328.4" x2="1241" y2="328.4" stroke="#7030A0" stroke-width="2.8" />
<text x="1251.3" y="337.0" class="lg" textLength="34.1" lengthAdjust="spacingAndGlyphs">UV</text>
<line x1="1149.5" y1="384.5" x2="1241" y2="384.5" stroke="#5B9BD5" stroke-width="2.8" />
<text x="1251.3" y="393.1" class="lg" textLength="59.3" lengthAdjust="spacingAndGlyphs">BLUE</text>
<line x1="1149.5" y1="440.7" x2="1241" y2="440.7" stroke="#70AD47" stroke-width="2.8" />
<text x="1251.3" y="449.3" class="lg" textLength="80.1" lengthAdjust="spacingAndGlyphs">GREEN</text>
<line x1="1149.5" y1="496.8" x2="1241" y2="496.8" stroke="#FFC000" stroke-width="2.8" />
<text x="1251.3" y="505.4" class="lg" textLength="95.3" lengthAdjust="spacingAndGlyphs">YELLOW</text>
<line x1="1149.5" y1="552.9" x2="1241" y2="552.9" stroke="#FF0000" stroke-width="2.8" />
<text x="1251.3" y="561.5" class="lg" textLength="45.7" lengthAdjust="spacingAndGlyphs">RED</text>
<text x="0" y="0" class="ti" fill="#595959" stroke="#595959" transform="translate(28 504.3) rotate(-90)" textLength="325.2" lengthAdjust="spacingAndGlyphs">Normalized power (%)</text>
<text x="471" y="798" class="ti" fill="#000" stroke="#000" textLength="253.3" lengthAdjust="spacingAndGlyphs">Wavelength (nm)</text>
</svg>
</body></html>
